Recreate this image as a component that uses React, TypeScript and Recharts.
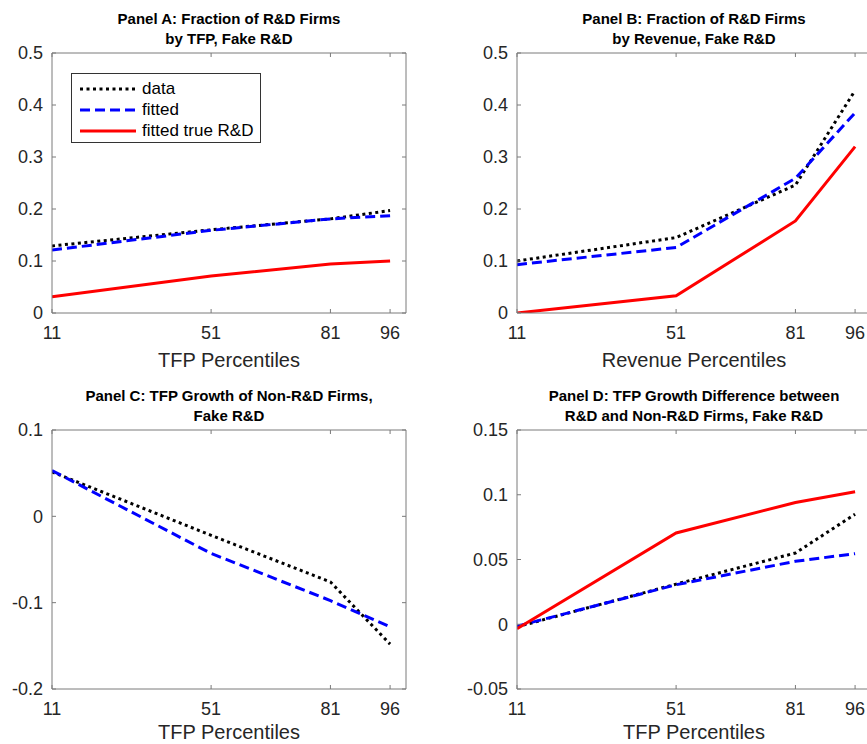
import React from "react";
import { LineChart, Line, XAxis, YAxis, Legend } from "recharts";

// x positions shared by all four panels
const percentiles = [11, 51, 81, 96];

// Panel A: fraction of R&D firms by TFP
const aData = [0.129, 0.16, 0.181, 0.197];
const aFitted = [0.121, 0.159, 0.181, 0.187];
const aTrue = [0.031, 0.071, 0.094, 0.1];

// Panel B: fraction of R&D firms by revenue
const bData = [0.1, 0.145, 0.246, 0.428];
const bFitted = [0.093, 0.126, 0.259, 0.385];
const bTrue = [0.0, 0.033, 0.177, 0.32];

// Panel C: TFP growth of non-R&D firms
const cData = [0.0515, -0.022, -0.076, -0.148];
const cFitted = [0.053, -0.043, -0.0976, -0.128];

// Panel D: TFP growth difference
const dData = [-0.002, 0.031, 0.055, 0.085];
const dFitted = [-0.0015, 0.0305, 0.0486, 0.0545];
const dTrue = [-0.0035, 0.0705, 0.094, 0.1023];

const yTicksAB = [0, 0.1, 0.2, 0.3, 0.4, 0.5];
const yTicksC = [-0.2, -0.1, 0, 0.1];
const yTicksD = [-0.05, 0, 0.05, 0.1, 0.15];

const seriesNames = ["data", "fitted", "fitted true R&D"];

const FONT = '"Liberation Sans", Arial, Helvetica, sans-serif';
const AXIS = "#7a7a7a";
const TEXT = "#262626";

const styles = {
  data: { stroke: "#000000", dash: "3 3.5" },
  fitted: { stroke: "#0000ff", dash: "10 5" },
  "fitted true R&D": { stroke: "#ff0000", dash: undefined },
};

const CHART_W = 434;
const CHART_H = 372;
const PLOT_LEFT = 52;
const PLOT_RIGHT = 28;

const buildRows = (cols: number[][]) =>
  percentiles.map((p, i) => {
    const row: any = { x: p };
    cols.forEach((c, k) => {
      row[seriesNames[k]] = c[i];
    });
    return row;
  });

const noLabel = () => <g />;

const LegendBox = () => (
  <div
    style={{
      border: "1px solid #333",
      background: "#fff",
      width: 190,
      height: 70,
      boxSizing: "border-box",
      padding: "4px 0 0 7px",
      fontFamily: FONT,
      fontSize: 17,
      color: "#000",
    }}
  >
    {seriesNames.map((n) => (
      <div key={n} style={{ display: "flex", alignItems: "center", height: 21 }}>
        <svg width={58} height={8} style={{ marginRight: 5 }}>
          <line
            x1={1}
            y1={4}
            x2={57}
            y2={4}
            stroke={styles[n].stroke}
            strokeWidth={3}
            strokeDasharray={styles[n].dash}
          />
        </svg>
        <span>{n}</span>
      </div>
    ))}
  </div>
);

const Panel = ({
  left,
  top,
  title,
  xLabel,
  cols,
  yDomain,
  yTicks,
  marginTop,
  marginBottom,
  labelOffset,
  showLegend = false,
}) => {
  const rows = buildRows(cols);
  const names = seriesNames.slice(0, cols.length);
  const plotBottom = CHART_H - marginBottom;
  return (
    <div style={{ position: "absolute", left, top, width: CHART_W, height: CHART_H }}>
      <div
        style={{
          position: "absolute",
          left: PLOT_LEFT,
          width: CHART_W - PLOT_LEFT - PLOT_RIGHT,
          top: marginTop - 44.5,
          textAlign: "center",
          fontFamily: FONT,
          fontWeight: "bold",
          fontSize: 15,
          lineHeight: "20.5px",
          whiteSpace: "nowrap",
          color: "#000",
        }}
      >
        {title.map((t) => (
          <div key={t}>{t}</div>
        ))}
      </div>
      <LineChart
        width={CHART_W}
        height={CHART_H}
        data={rows}
        margin={{ top: marginTop - 1, right: PLOT_RIGHT - 1, bottom: 0, left: 0 }}
      >
        <XAxis
          dataKey="x"
          type="number"
          domain={[11, 100]}
          allowDataOverflow
          ticks={percentiles}
          height={marginBottom}
          tickSize={-4}
          tickMargin={17.5}
          stroke={AXIS}
          tick={{ fill: TEXT, fontSize: 18, fontFamily: FONT }}
        />
        <XAxis
          xAxisId="top"
          orientation="top"
          dataKey="x"
          type="number"
          domain={[11, 100]}
          allowDataOverflow
          ticks={percentiles}
          height={1}
          tickSize={-4}
          stroke={AXIS}
          tick={noLabel}
        />
        <YAxis
          type="number"
          domain={yDomain}
          allowDataOverflow
          ticks={yTicks}
          width={PLOT_LEFT}
          tickSize={-4}
          tickMargin={13}
          stroke={AXIS}
          tickFormatter={(v) => String(v)}
          tick={{ fill: TEXT, fontSize: 18, fontFamily: FONT }}
        />
        <YAxis
          yAxisId="right"
          orientation="right"
          type="number"
          domain={yDomain}
          allowDataOverflow
          ticks={yTicks}
          width={1}
          tickSize={-4}
          stroke={AXIS}
          tick={noLabel}
        />
        {/* invisible copy so the top/right box axes get a domain */}
        <Line
          xAxisId="top"
          yAxisId="right"
          dataKey={names[0]}
          stroke="none"
          dot={false}
          activeDot={false}
          legendType="none"
          isAnimationActive={false}
        />
        {names.map((n) => (
          <Line
            key={n}
            type="linear"
            dataKey={n}
            stroke={styles[n].stroke}
            strokeWidth={3}
            strokeDasharray={styles[n].dash}
            dot={false}
            activeDot={false}
            isAnimationActive={false}
          />
        ))}
        {showLegend && (
          <Legend
            layout="vertical"
            align="center"
            verticalAlign="middle"
            wrapperStyle={{ left: 71, top: 73, width: 190 }}
            content={() => <LegendBox />}
          />
        )}
      </LineChart>
      <div
        style={{
          position: "absolute",
          left: PLOT_LEFT,
          width: CHART_W - PLOT_LEFT - PLOT_RIGHT,
          top: plotBottom + labelOffset - 10,
          textAlign: "center",
          fontFamily: FONT,
          fontSize: 20,
          lineHeight: "20px",
          color: TEXT,
          whiteSpace: "nowrap",
        }}
      >
        {xLabel}
      </div>
    </div>
  );
};

export default function App() {
  return (
    <div
      style={{
        position: "fixed",
        left: 0,
        top: 0,
        width: 867,
        height: 744,
        overflow: "hidden",
        background: "#fff",
      }}
    >
      <Panel
        left={0}
        top={0}
        title={["Panel A: Fraction of R&D Firms", "by TFP, Fake R&D"]}
        xLabel="TFP Percentiles"
        cols={[aData, aFitted, aTrue]}
        yDomain={[0, 0.5]}
        yTicks={yTicksAB}
        marginTop={53}
        marginBottom={59}
        labelOffset={47}
        showLegend
      />
      <Panel
        left={465}
        top={0}
        title={["Panel B: Fraction of R&D Firms", "by Revenue, Fake R&D"]}
        xLabel="Revenue Percentiles"
        cols={[bData, bFitted, bTrue]}
        yDomain={[0, 0.5]}
        yTicks={yTicksAB}
        marginTop={53}
        marginBottom={59}
        labelOffset={47}
      />
      <Panel
        left={0}
        top={372}
        title={["Panel C: TFP Growth of Non-R&D Firms,", "Fake R&D"]}
        xLabel="TFP Percentiles"
        cols={[cData, cFitted]}
        yDomain={[-0.2, 0.1]}
        yTicks={yTicksC}
        marginTop={58}
        marginBottom={55}
        labelOffset={43}
      />
      <Panel
        left={465}
        top={372}
        title={["Panel D: TFP Growth Difference between", "R&D and Non-R&D Firms, Fake R&D"]}
        xLabel="TFP Percentiles"
        cols={[dData, dFitted, dTrue]}
        yDomain={[-0.05, 0.15]}
        yTicks={yTicksD}
        marginTop={58}
        marginBottom={55}
        labelOffset={43}
      />
    </div>
  );
}
